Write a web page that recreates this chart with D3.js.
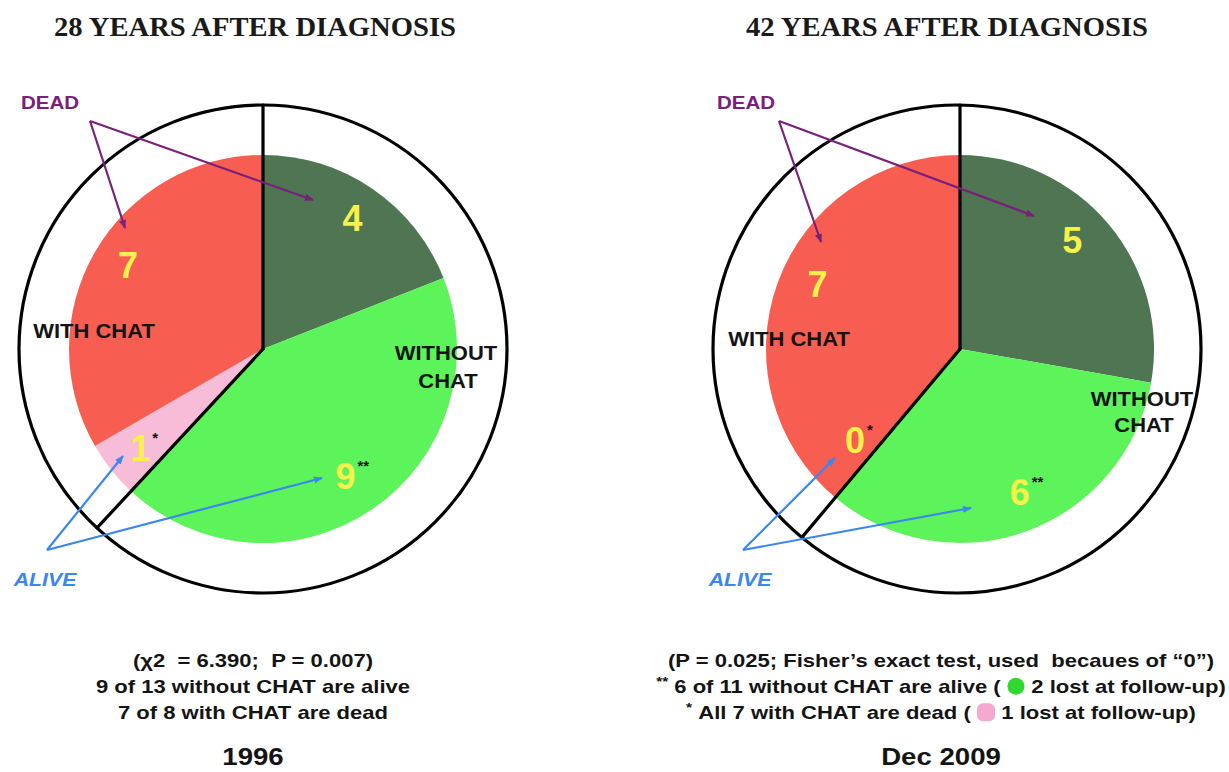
<!DOCTYPE html>
<html><head><meta charset="utf-8">
<script src="https://cdn.jsdelivr.net/npm/d3@7"></script>
<style>body{margin:0;background:#fff}svg{display:block}</style>
</head><body>
<svg id="chart" width="1229" height="772"></svg>
<script>
// ---------- data ----------
const NB = "\u00A0";
const categories = ["Dead without CHAT", "Alive without CHAT", "Alive with CHAT", "Dead with CHAT"];
const values1996 = [4, 9, 1, 7];
const values2009 = [5, 6, 0, 7];
const valueLabels1996 = ["4", "9", "1", "7"];
const valueLabels2009 = ["5", "6", "0", "7"];
const valueMarks1996 = ["", "**", "*", ""];
const valueMarks2009 = ["", "**", "*", ""];
const titles = ["28 YEARS AFTER DIAGNOSIS", "42 YEARS AFTER DIAGNOSIS"];
const yearLabels = ["1996", "Dec 2009"];
const groupLabels = ["WITH CHAT", ["WITHOUT", "CHAT"]];
const annotationLabels = ["DEAD", "ALIVE"];
const notes1996 = [
  [{t: "(\u03C72" + NB + NB + "= 6.390;" + NB + NB + "P = 0.007)"}],
  [{t: "9 of 13 without CHAT are alive"}],
  [{t: "7 of 8 with CHAT are dead"}]
];
const notes2009 = [
  [{t: "(P = 0.025; Fisher\u2019s exact test, used" + NB + NB + "becaues of \u201C0\u201D)"}],
  [{t: "**", sup: true}, {t: NB + "6 of 11 without CHAT are alive (" + NB}, {t: NB + NB + NB, dot: 1}, {t: NB + "2 lost at follow-up)"}],
  [{t: "*", sup: true}, {t: NB + "All 7 with CHAT are dead (" + NB}, {t: NB + NB + NB, dot: 2}, {t: NB + "1 lost at follow-up)"}]
];

// ---------- style ----------
const sliceColors = ["#4F7552", "#5CF45A", "#F6BCD8", "#F85D52"];
const dotColors = {1: "#2FD82F", 2: "#F5A9CF"};
const purple = "#78207A", blue = "#3C86F0", yellow = "#F6F24A";
const sans = "'Liberation Sans', Arial, Helvetica, sans-serif";
const serif = "'Liberation Serif', 'Times New Roman', serif";

const charts = [
  {values: values1996, labels: valueLabels1996, marks: valueMarks1996, title: titles[0], year: yearLabels[0], notes: notes1996},
  {values: values2009, labels: valueLabels2009, marks: valueMarks2009, title: titles[1], year: yearLabels[1], notes: notes2009}
];
const layout = [
  {pc: [263, 349], oc: [263, 349], titleX: 255, notesX: 253,
   nudges: [[1, -1], [-6, -3], [0, 1], [1, -6]],
   withLbl: [-169, -18], withoutLbl: [[183, 4], [185, 32]],
   dead: {text: [-213, -247], apex: [-173, -228], targets: [[-138, -121], [50, -149]]},
   alive: {text: [-218, 230], apex: [-216, 201], targets: [[-140, 107], [59, 129]]}},
  {pc: [960, 349], oc: [957, 349], titleX: 947, notesX: 941,
   nudges: [[-8, -8], [6, -5], [-4, -29], [5, -11]],
   withLbl: [-171, -10], withoutLbl: [[182, 50], [184, 76]],
   dead: {text: [-214, -247], apex: [-181, -228], targets: [[-139, -107], [74, -133]]},
   alive: {text: [-220, 230], apex: [-217, 201], targets: [[-125, 109], [11, 159]]}}
];
const pieR = 194, outerR = 244, labelR = 157;

const svg = d3.select("#chart");
svg.append("rect").attr("width", 1229).attr("height", 772).attr("fill", "#fff");

const defs = svg.append("defs");
[["arrPurple", purple], ["arrBlue", blue]].forEach(([id, c]) => {
  defs.append("marker").attr("id", id).attr("viewBox", "0 0 10 10")
    .attr("refX", 9).attr("refY", 5).attr("markerWidth", 9).attr("markerHeight", 9)
    .attr("markerUnits", "userSpaceOnUse").attr("orient", "auto")
    .append("path").attr("d", "M0,1 L10,5 L0,9 Z").attr("fill", c);
});

const pie = d3.pie().sort(null).value(d => d).startAngle(0).endAngle(2 * Math.PI);
const arc = d3.arc().innerRadius(0).outerRadius(pieR);
const labelArc = d3.arc().innerRadius(labelR).outerRadius(labelR);

function rayToCircle(P, O, R, a) {
  const u = [Math.sin(a), -Math.cos(a)];
  const d = [P[0] - O[0], P[1] - O[1]];
  const b = u[0] * d[0] + u[1] * d[1];
  const c = d[0] * d[0] + d[1] * d[1] - R * R;
  const t = -b + Math.sqrt(b * b - c);
  return [P[0] + t * u[0], P[1] + t * u[1]];
}

function stretchedText(parent, x, y, parts, size, sx, opts = {}) {
  const g = parent.append("g").attr("transform", `translate(${x},${y}) scale(${sx},1)`);
  const t = g.append("text").attr("text-anchor", opts.anchor || "middle")
    .attr("font-family", opts.family || sans).attr("font-weight", "bold")
    .attr("font-style", opts.italic ? "italic" : "normal")
    .attr("font-size", size).attr("fill", opts.fill || "#141414");
  let idx = 0, pendingDy = 0;
  const gaps = [];
  parts.forEach(p => {
    const ts = t.append("tspan").text(p.t);
    if (p.sup) {
      ts.attr("font-size", size * 0.7).attr("dy", -size * 0.38);
      pendingDy = size * 0.38;
    } else if (pendingDy) {
      ts.attr("dy", pendingDy); pendingDy = 0;
    }
    if (p.dot) gaps.push({start: idx, end: idx + p.t.length - 1, dot: p.dot});
    idx += p.t.length;
  });
  gaps.forEach(gp => {
    const n = t.node();
    const e1 = n.getExtentOfChar(gp.start), e2 = n.getExtentOfChar(gp.end);
    const cxl = (e1.x + e2.x + e2.width) / 2;
    const X = x + sx * cxl, Y = y - size * 0.36;
    if (gp.dot === 1) {
      parent.append("circle").attr("cx", X).attr("cy", Y).attr("r", 8.5).attr("fill", dotColors[1]);
    } else {
      parent.append("rect").attr("x", X - 9).attr("y", Y - 9).attr("width", 18).attr("height", 18)
        .attr("rx", 6).attr("fill", dotColors[2]);
    }
  });
  return g;
}

charts.forEach((ch, i) => {
  const L = layout[i];
  const g = svg.append("g");
  const [px, py] = L.pc;
  const arcs = pie(ch.values);

  // pie slices
  g.append("g").attr("transform", `translate(${px},${py})`)
    .selectAll("path").data(arcs).join("path")
    .attr("d", arc).attr("fill", (d, k) => sliceColors[k]);

  // outer circle
  g.append("circle").attr("cx", L.oc[0]).attr("cy", L.oc[1]).attr("r", outerR)
    .attr("fill", "none").attr("stroke", "#000").attr("stroke-width", 3.2);

  // group dividers: top and boundary between without / with CHAT
  const boundary = arcs[1].endAngle;
  [0, boundary].forEach(a => {
    const end = rayToCircle(L.pc, L.oc, outerR, a);
    g.append("line").attr("x1", px).attr("y1", py).attr("x2", end[0]).attr("y2", end[1])
      .attr("stroke", "#000").attr("stroke-width", 3.2).attr("stroke-linecap", "round");
  });

  // value labels
  arcs.forEach((d, k) => {
    const c = labelArc.centroid(d);
    const x = px + c[0] + L.nudges[k][0], y = py + c[1] + L.nudges[k][1];
    g.append("text").attr("x", x).attr("y", y + 13).attr("text-anchor", "middle")
      .attr("font-family", sans).attr("font-weight", "bold").attr("font-size", 36)
      .attr("fill", yellow).text(ch.labels[k]);
    if (ch.marks[k]) {
      g.append("text").attr("x", x + 12).attr("y", y - 5).attr("text-anchor", "start")
        .attr("font-family", sans).attr("font-weight", "bold").attr("font-size", 15)
        .attr("fill", "#111").text(ch.marks[k]);
    }
  });

  // group labels
  stretchedText(g, px + L.withLbl[0], py + L.withLbl[1] + 7, [{t: groupLabels[0]}], 20, 1.1);
  groupLabels[1].forEach((s, k) => {
    stretchedText(g, px + L.withoutLbl[k][0], py + L.withoutLbl[k][1] + 7, [{t: s}], 20, 1.1);
  });

  // annotations
  [[L.dead, purple, "arrPurple", annotationLabels[0], false],
   [L.alive, blue, "arrBlue", annotationLabels[1], true]].forEach(([A, col, mk, txt, it]) => {
    A.targets.forEach(tg => {
      g.append("line").attr("x1", px + A.apex[0]).attr("y1", py + A.apex[1])
        .attr("x2", px + tg[0]).attr("y2", py + tg[1])
        .attr("stroke", col).attr("stroke-width", 2.2).attr("marker-end", `url(#${mk})`);
    });
    stretchedText(g, px + A.text[0], py + A.text[1] + 7, [{t: txt}], 19, it ? 1.12 : 1.08,
      {fill: col, italic: it});
  });

  // title
  stretchedText(g, L.titleX, 36, [{t: ch.title}], 27, 1.06, {family: serif, fill: "#1a1a1a"});

  // notes
  const noteY = [667, 693, 719];
  ch.notes.forEach((line, k) => {
    stretchedText(g, L.notesX, noteY[k], line, 19, 1.16);
  });
  stretchedText(g, L.notesX, 765, [{t: ch.year}], 24, 1.15);
});
</script>
</body></html>
